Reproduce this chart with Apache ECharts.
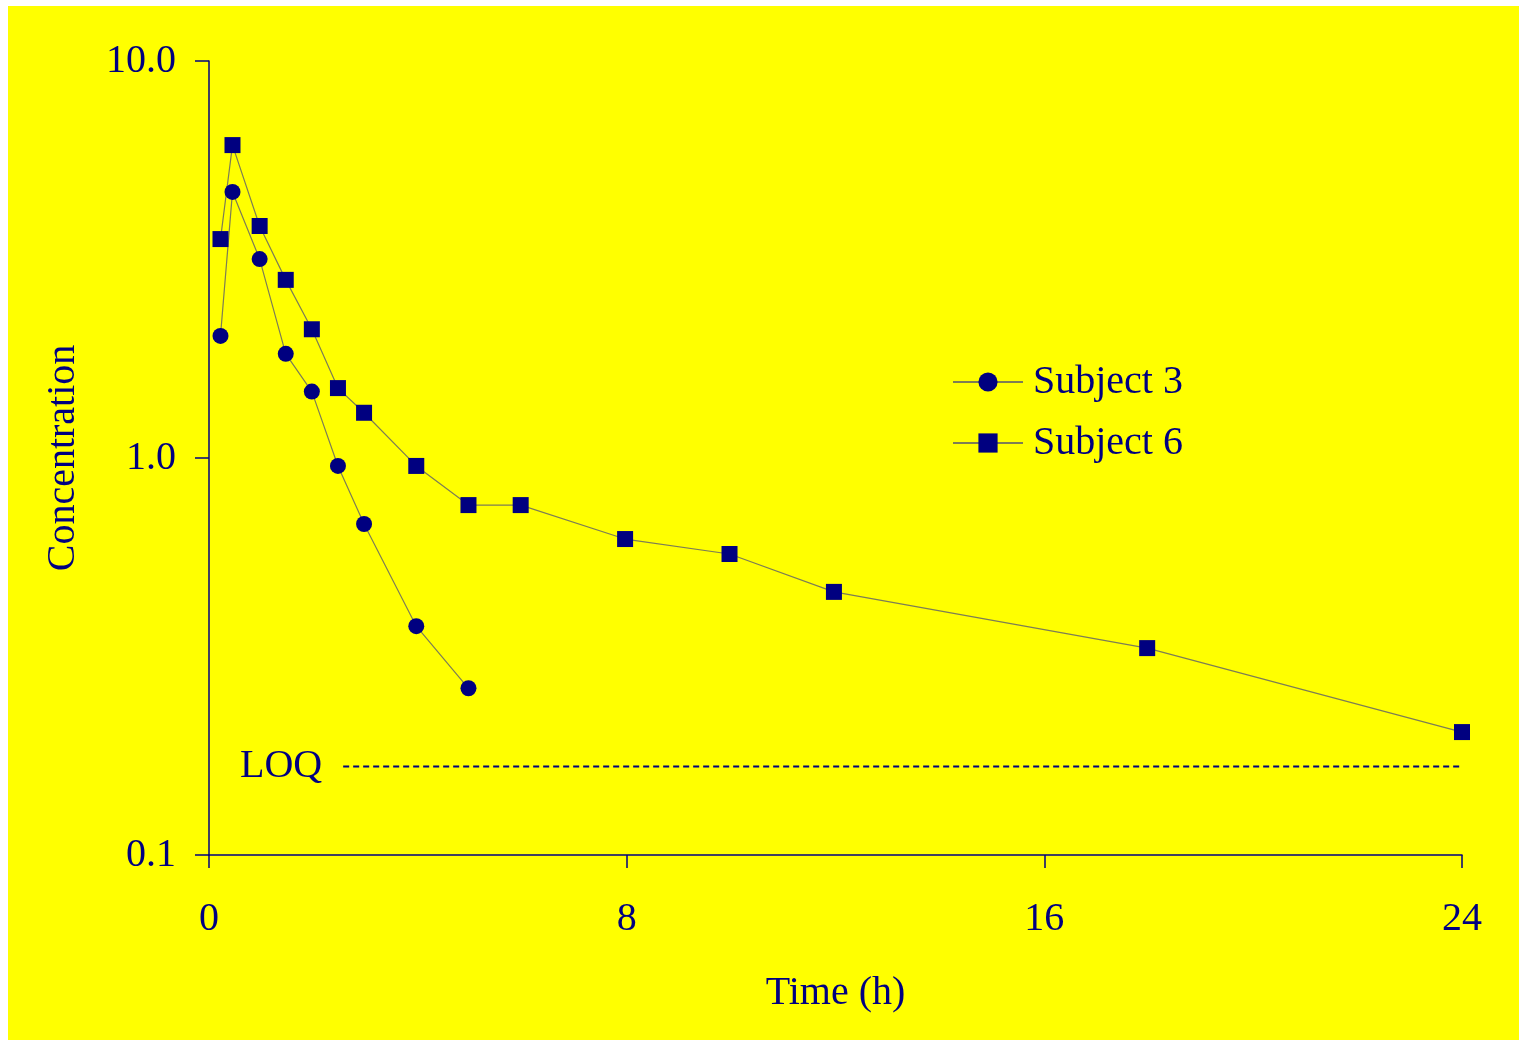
<!DOCTYPE html>
<html lang="en">
<head>
    <meta charset="UTF-8">
    <title>Concentration vs time</title>
    <script src="https://cdn.jsdelivr.net/npm/echarts@6/dist/echarts.min.js"></script>
    <style>
        body { margin: 0; background: #ffffff; }
        #main { position: absolute; left: 8px; top: 6px; width: 1511px; height: 1034px; }
    </style>
</head>
<body>
    <div id="main"></div>
    <script type="text/javascript">
        // sampling times (h) and concentrations
        const times3 = [0.22, 0.45, 0.97, 1.47, 1.97, 2.47, 2.97, 3.97, 4.97];
        const subject3 = [2.03, 4.68, 3.17, 1.83, 1.47, 0.955, 0.682, 0.377, 0.263];
        const times6 = [0.22, 0.45, 0.97, 1.47, 1.97, 2.47, 2.97, 3.97, 4.97, 5.97, 7.97, 9.97, 11.97, 17.97, 24];
        const subject6 = [3.56, 6.14, 3.84, 2.81, 2.11, 1.50, 1.30, 0.955, 0.761, 0.761, 0.625, 0.573, 0.460, 0.332, 0.204];
        const loqTimes = [2.57, 24.1];
        const loqValue = 0.167;

        const navy = '#000080';
        const font = '"Liberation Serif", "Times New Roman", serif';
        const thin = { color: '#7d7d55', width: 1.2 };

        const pairs = (xs, ys) => xs.map((x, i) => [x, ys[i]]);

        let myChart = echarts.init(document.getElementById('main'));
        let options = {
            backgroundColor: '#ffff00',
            animation: false,
            textStyle: { fontFamily: font, color: navy },
            grid: { left: 201, right: 57, top: 55, bottom: 185 },
            legend: {
                orient: 'vertical',
                left: 944,
                top: 356,
                padding: 0,
                itemWidth: 70,
                itemHeight: 24,
                itemGap: 21,
                textStyle: { fontFamily: font, fontSize: 40, color: navy, padding: [0, 0, 0, 5] },
                data: ['Subject 3', 'Subject 6']
            },
            xAxis: {
                type: 'value',
                min: 0,
                max: 24,
                interval: 8,
                name: 'Time (h)',
                nameLocation: 'middle',
                nameGap: 118,
                nameTextStyle: { fontFamily: font, fontSize: 40, color: navy },
                axisLine: { lineStyle: { color: navy, width: 1.5 } },
                axisTick: { length: 13, lineStyle: { color: navy, width: 1.5 } },
                axisLabel: { fontFamily: font, fontSize: 40, color: navy, margin: 44 },
                splitLine: { show: false }
            },
            yAxis: {
                type: 'log',
                logBase: 10,
                min: 0.1,
                max: 10,
                name: 'Concentration',
                nameLocation: 'middle',
                nameGap: 126,
                nameTextStyle: { fontFamily: font, fontSize: 40, color: navy },
                axisLine: { lineStyle: { color: navy, width: 1.5 } },
                axisTick: { length: 14, lineStyle: { color: navy, width: 1.5 } },
                minorTick: { show: false },
                axisLabel: {
                    fontFamily: font, fontSize: 40, color: navy, margin: 33,
                    formatter: v => Number(v).toFixed(1)
                },
                splitLine: { show: false }
            },
            series: [
                {
                    name: 'Subject 3',
                    type: 'line',
                    data: pairs(times3, subject3),
                    symbol: 'circle',
                    symbolSize: 16,
                    itemStyle: { color: navy },
                    lineStyle: thin
                },
                {
                    name: 'Subject 6',
                    type: 'line',
                    data: pairs(times6, subject6),
                    symbol: 'rect',
                    symbolSize: 16,
                    itemStyle: { color: navy },
                    lineStyle: thin
                },
                {
                    name: 'LOQ',
                    type: 'line',
                    clip: false,
                    data: loqTimes.map(t => [t, loqValue]),
                    symbol: 'none',
                    lineStyle: { color: navy, width: 2, type: [6, 4] },
                    markPoint: {
                        symbol: 'circle',
                        symbolSize: 0,
                        data: [{ coord: [loqTimes[0], loqValue] }],
                        label: {
                            show: true,
                            position: 'left',
                            distance: 21,
                            formatter: 'LOQ',
                            fontFamily: font,
                            fontSize: 40,
                            color: navy
                        }
                    }
                }
            ]
        };
        myChart.setOption(options);
    </script>
</body>
</html>
